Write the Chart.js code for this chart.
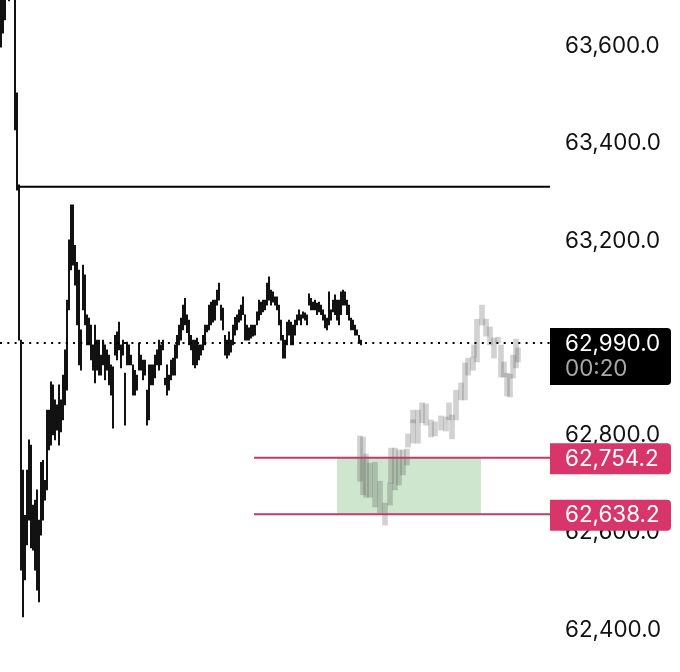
<!DOCTYPE html>
<html>
<head>
<meta charset="utf-8">
<style>html,body{margin:0;padding:0;background:#fff}canvas{display:block}</style>
<script src="https://cdn.jsdelivr.net/npm/chart.js@4"></script>
</head>
<body>
<canvas id="c" width="680" height="672"></canvas>
<script>
const tickValues = [62400,62600,62800,63000,63200,63400,63600];
const blackHigh = [63710,63710,63710,null,63710,null,null,63710,63504,63315,
62996,62729,62636,62729,62791,62780,62657,62667,62688,62626,
62745,62749,62708,62852,62852,62910,62904,62873,62863,62904,
62873,62924,62976,63078,63202,63274,63274,63191,63156,63140,
63017,63150,63130,63048,63041,63027,62986,63027,62996,62996,
62965,62996,62986,62976,62965,62945,62941,63006,63013,63033,
62986,62996,62928,62992,62986,62965,62945,62934,62924,62990,
62965,62955,62955,62893,62945,62945,62945,62965,62976,62996,
62986,62996,62918,62945,62924,62955,62959,62986,63006,63027,
63041,63068,63082,63048,63037,63006,62996,62996,63000,62986,
62986,63006,63027,63027,63068,63074,63078,63078,63099,63113,
63068,63062,63006,62996,63013,62996,63027,63043,63048,63058,
63068,63085,63048,63027,63021,63027,63027,63027,63054,63078,
63074,63078,63078,63113,63126,63099,63095,63085,63085,63068,
63037,63006,62996,63033,63037,63033,63027,63037,63048,63058,
63048,63054,63052,63048,63091,63082,63074,63078,63072,63074,
63068,63058,63048,63041,63095,63058,63078,63089,63078,63078,
63095,63099,63095,63078,63068,63041,63037,63027,63017,63006,
62996];
const blackLow = [63598,63627,63654,null,63693,null,null,63428,63304,62996,
62523,62427,62503,62575,62626,62569,62564,62523,62482,62458,
62595,62626,62667,62688,62770,62780,62801,62791,62811,62780,
62807,62832,62863,62893,63058,63140,63150,63109,63027,62945,
62934,63058,63027,62986,62986,62955,62934,62908,62934,62924,
62924,62945,62914,62934,62904,62883,62815,62965,62955,62976,
62939,62965,62821,62945,62945,62945,62883,62883,62893,62934,
62934,62914,62924,62821,62832,62904,62904,62918,62945,62934,
62945,62976,62904,62883,62893,62914,62924,62924,62959,62986,
62996,63017,63027,63011,62986,62976,62945,62939,62945,62955,
62965,62976,62986,63013,63017,63027,63033,63037,63068,63078,
63037,63017,62965,62959,62965,62971,62986,63006,63017,63033,
63037,63048,62996,62996,62996,63000,63004,63006,63027,63037,
63048,63054,63058,63068,63078,63068,63074,63068,63058,63027,
62996,62959,62959,62986,63006,62986,62986,63006,63027,63037,
63027,63041,63037,63027,63068,63058,63058,63058,63048,63054,
63048,63037,63021,63017,63027,63037,63054,63048,63037,63027,
63048,63068,63068,63048,63037,63017,63017,63006,63006,62990,
62986];
const ghostTime = [179.5,181,182.5,184.5,187,189.5,192,194.5,195,197,199,201,203,203.5,206,206,208.5,210.5,212.5,215,217,220,222.5,224,225.5,227.5,230,232,233.5,236,236.5,238,240.5,242.5,244.5,246.5,248.5,250,251.5,253,254.5,256,257.5,258.5];
const ghostHigh = [62799,62797,62762,62743,62745,62706,62661,62702,62774,62774,62770,62770,62772,62803,62832,62852,62852,62867,62865,62832,62828,62840,62838,62867,62842,62893,62908,62949,62959,62961,62986,63039,63068,63039,63023,63000,63002,62986,62951,62928,62926,62965,62998,62980];
const ghostLow = [62706,62678,62673,62673,62653,62640,62616,62657,62702,62688,62698,62719,62739,62776,62784,62826,62784,62826,62821,62797,62799,62811,62809,62832,62793,62832,62873,62873,62924,62934,62961,62951,63027,63004,62986,62959,62990,62920,62920,62881,62879,62918,62939,62951];
const lastPrice = 62990.0;
const countdown = "00:20";
const zoneTop = 62754.2;
const zoneBottom = 62638.2;
const resistance = 63311;
const timeEnd = 274.5;
const resistanceStart = 9;
const levelStart = 126.5;
const zoneStart = 168;
const zoneEnd = 240;

const fmt = v => v.toLocaleString('en-US',{minimumFractionDigits:1,maximumFractionDigits:1});
const FONT = 'Inter, "Noto Sans", sans-serif';

const tagPlugin = {
  id:'priceTags',
  afterDraw(chart){
    const {ctx,scales:{y}} = chart;
    const box = (top,h,color)=>{
      ctx.fillStyle=color;
      ctx.beginPath();
      ctx.roundRect(550,top,121,h,[0,4,4,0]);
      ctx.fill();
    };
    ctx.save();
    ctx.textBaseline='middle';
    ctx.textAlign='left';
    ctx.font='22.4px '+FONT;
    const p0=y.getPixelForValue(lastPrice);
    box(p0-15,57,'#000000');
    ctx.fillStyle='#ffffff';
    ctx.fillText(fmt(lastPrice),565,p0+1);
    ctx.fillStyle='#a8a8a8';
    ctx.fillText(countdown,565,p0+26);
    [zoneTop,zoneBottom].forEach(v=>{
      const p=y.getPixelForValue(v);
      box(p-14.5,31,'#d8366a');
      ctx.fillStyle='#ffffff';
      ctx.fillText(fmt(v),565,p+1.5);
    });
    ctx.restore();
  }
};

const line = (x0,x1,v,extra)=>Object.assign({
  type:'line',
  data:[{x:x0,y:v},{x:x1,y:v}],
  pointRadius:0,
  borderWidth:2,
  tension:0,
  fill:false
},extra);

new Chart(document.getElementById('c'),{
  type:'bar',
  data:{datasets:[
    line(zoneStart,zoneEnd,zoneTop,{label:'zone top',borderWidth:0,borderColor:'transparent',fill:'+1',backgroundColor:'#cde6cd',order:9}),
    line(zoneStart,zoneEnd,zoneBottom,{label:'zone bottom',borderWidth:0,borderColor:'transparent',order:10}),
    {label:'projection',data:ghostTime.map((t,i)=>({x:t,y:[ghostLow[i],ghostHigh[i]]})),backgroundColor:'rgba(50,50,50,0.22)',barThickness:5,grouped:false,order:7},
    {label:'price',data:blackHigh.map((h,i)=>h===null?null:({x:i,y:[blackLow[i],h]})).filter(Boolean),backgroundColor:'#000000',barThickness:1.2,grouped:false,order:3},
    line(levelStart,timeEnd,zoneTop,{label:'upper level',borderColor:'#c23a66',order:2}),
    line(levelStart,timeEnd,zoneBottom,{label:'lower level',borderColor:'#c23a66',order:2}),
    line(resistanceStart,timeEnd,resistance,{label:'resistance',borderColor:'#000000',order:2}),
    line(-0.5,timeEnd,lastPrice,{label:'last',borderColor:'#000000',borderWidth:2,borderDash:[2,5.3],order:1})
  ]},
  options:{
    responsive:false,
    animation:false,
    devicePixelRatio:1,
    layout:{padding:0},
    plugins:{legend:{display:false},tooltip:{enabled:false}},
    scales:{
      x:{type:'linear',min:-0.5,max:timeEnd,display:false,offset:false},
      y:{
        position:'right',
        min:62313.8,
        max:63695,
        grid:{display:false,drawTicks:false},
        border:{display:false},
        afterBuildTicks(s){s.ticks=tickValues.map(value=>({value}));},
        afterFit(s){s.width=130;s.paddingTop=0;s.paddingBottom=0;},
        ticks:{
          autoSkip:false,
          padding:15,
          color:'#111111',
          font:{family:FONT,size:22.4},
          callback:v=>fmt(v)
        }
      }
    }
  },
  plugins:[tagPlugin]
});
</script>
</body>
</html>
